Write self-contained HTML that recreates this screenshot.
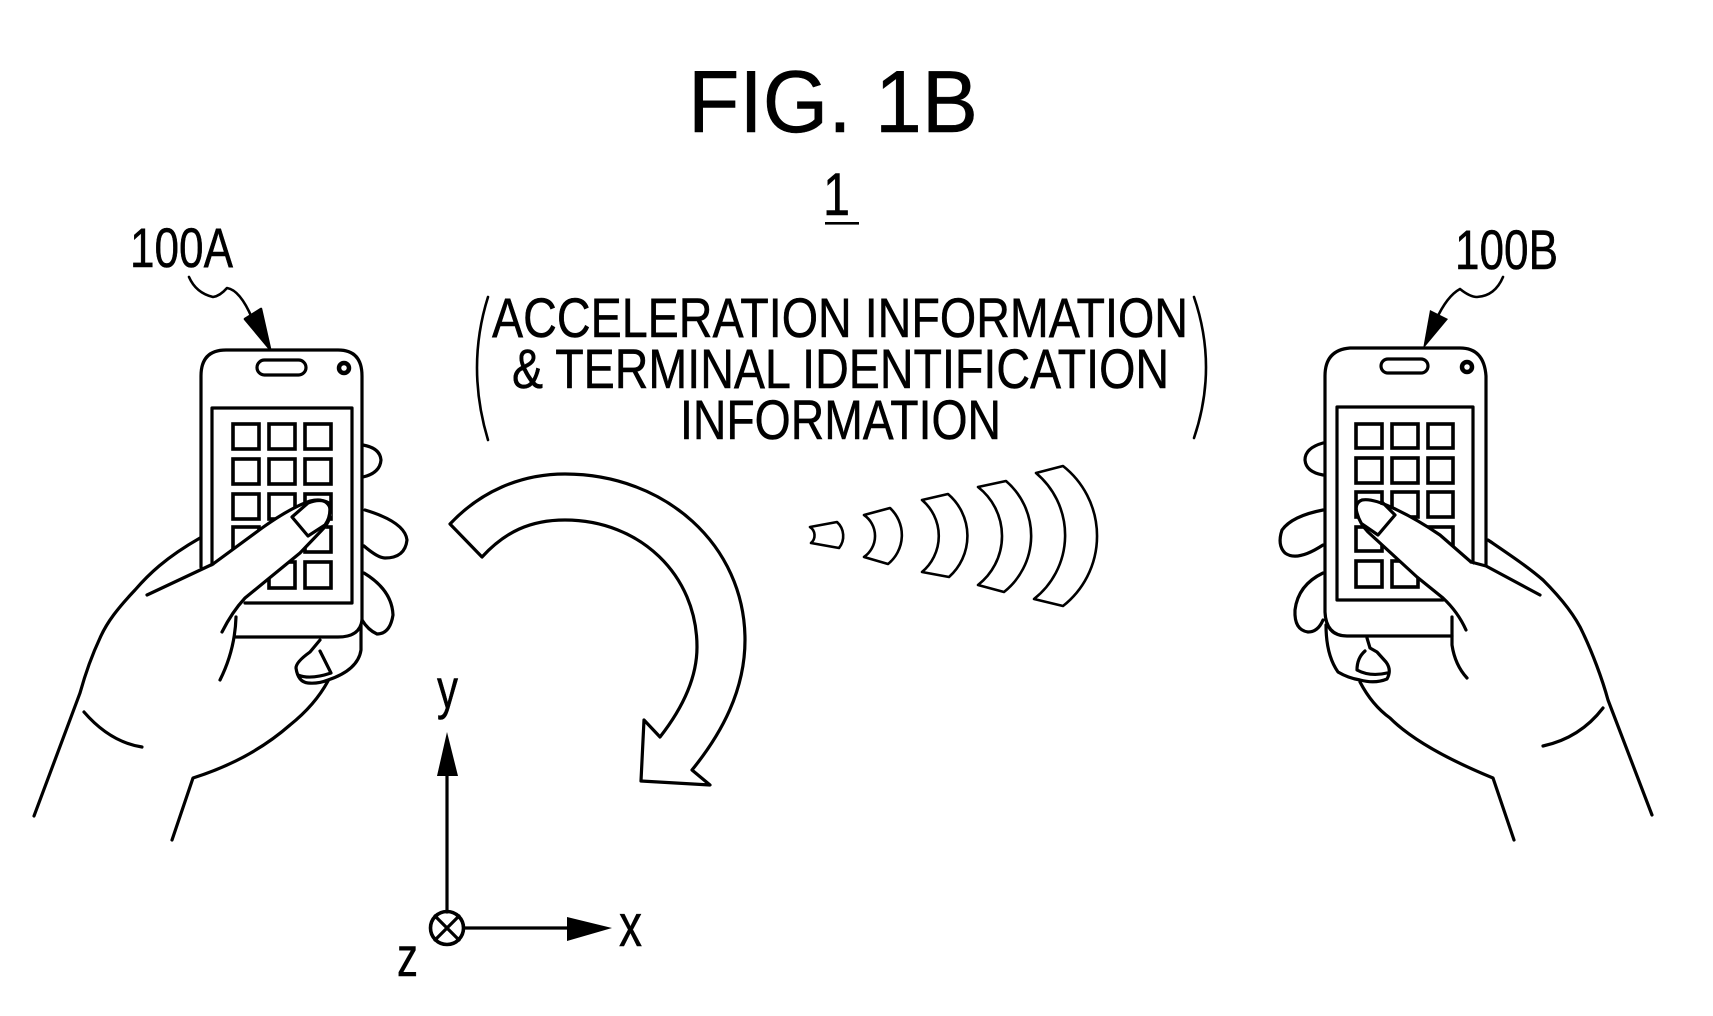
<!DOCTYPE html>
<html><head><meta charset="utf-8"><style>
html,body{margin:0;padding:0;background:#fff;width:1713px;height:1016px;overflow:hidden}
svg{display:block}
text{font-family:"Liberation Sans",sans-serif;fill:#000;stroke:#000;stroke-width:.5}
.l{fill:none;stroke:#000;stroke-width:3.2;stroke-linecap:round;stroke-linejoin:round}
.t{fill:none;stroke:#000;stroke-width:2.6;stroke-linecap:round;stroke-linejoin:round}
.i{fill:none;stroke:#000;stroke-width:3.6}
</style></head><body>
<svg width="1713" height="1016" viewBox="0 0 1713 1016" xmlns="http://www.w3.org/2000/svg">
<rect width="1713" height="1016" fill="#fff"/>
<text x="688" y="132" font-size="88" textLength="290" lengthAdjust="spacingAndGlyphs">FIG. 1B</text>
<text x="823" y="215" font-size="60" textLength="27" lengthAdjust="spacingAndGlyphs">1</text>
<rect x="825" y="222" width="34" height="2.6"/>
<text x="492" y="337" font-size="56" textLength="696" lengthAdjust="spacingAndGlyphs">ACCELERATION INFORMATION</text>
<text x="512" y="388" font-size="56" textLength="657" lengthAdjust="spacingAndGlyphs">&amp; TERMINAL IDENTIFICATION</text>
<text x="680" y="439" font-size="56" textLength="321" lengthAdjust="spacingAndGlyphs">INFORMATION</text>
<path class="t" d="M488 297Q466 367 488 440M1194 297Q1218 367 1194 438"/>
<text x="130" y="267" font-size="56" textLength="103" lengthAdjust="spacingAndGlyphs">100A</text>
<text x="1455" y="269" font-size="56" textLength="103" lengthAdjust="spacingAndGlyphs">100B</text>
<path class="t" d="M189 277Q196 293 213 297Q220 296 227 288Q240 290 252 318"/>
<path d="M270 349L245 319L261 309Z"/><path class="t" d="M245 319L261 309L270 349Z"/>
<path class="t" d="M1503 277Q1495 296 1477 297Q1470 297 1460 289Q1447 296 1436 320"/>
<path d="M1423 349L1430 310L1448 319Z"/>

<!-- left phone -->
<path class="l" d="M201 567V376Q201 350 226 350H338Q362 350 362 376V620Q360 637 338 637H236"/>
<rect class="l" x="257" y="360" width="49" height="15" rx="7.5"/>
<circle cx="344" cy="368" r="5" fill="none" stroke="#000" stroke-width="4.5"/>
<path class="l" d="M212 565V408H352V603H245"/>
<g class="i">
<rect x="233" y="424" width="26" height="25"/><rect x="269" y="424" width="26" height="25"/><rect x="305" y="424" width="26" height="25"/>
<rect x="233" y="459" width="26" height="25"/><rect x="269" y="459" width="26" height="25"/><rect x="305" y="459" width="26" height="25"/>
<rect x="233" y="494" width="26" height="25"/><rect x="269" y="494" width="26" height="25"/><rect x="305" y="494" width="26" height="25"/>
<rect x="233" y="527" width="26" height="25"/><rect x="305" y="527" width="26" height="25"/>
<rect x="269" y="562" width="26" height="26"/><rect x="305" y="562" width="26" height="26"/>
</g>
<path fill="#fff" d="M213 564L262 528L310 500L328 501L332 515L326 528L300 553L267 580L245 600L232 622L215 640L205 590Z"/>
<path class="l" d="M213 564L262 528Q290 508 310 501Q326 497 330 508Q332 520 322 530L300 553L267 580L245 598Q232 612 222 632"/>
<path class="l" d="M292 517L308 503Q320 498 329 503Q332 515 325 525L308 536Z"/>
<path class="l" d="M200 538C165 558 148 575 135 590C118 608 107 622 100 638C92 655 85 675 80 693L34 816"/>
<path class="l" d="M147 595L213 564"/>
<path class="l" d="M84 712Q110 742 142 747"/>
<path class="l" d="M172 840L193 778Q250 760 290 725Q315 705 328 681"/>
<path class="l" d="M236 617Q235 650 220 680"/>
<path class="l" d="M361 625V650Q358 670 328 680Q318 684 308 683Q298 682 296 668Q296 662 310 652L320 640M320 651L331 673Q310 680 298 675"/>
<path class="l" d="M363 445Q380 448 381 460Q380 473 363 477"/>
<path class="l" d="M365 510Q405 522 407 540Q405 558 385 558Q378 558 364 546"/>
<path class="l" d="M364 573Q392 590 393 615Q390 634 377 634Q368 630 362 620"/>

<!-- right phone -->
<path class="l" d="M1486 565V376Q1484 348 1460 348H1350Q1325 350 1325 376V612Q1326 636 1347 636H1452"/>
<rect class="l" x="1381" y="359" width="47" height="14" rx="7"/>
<circle cx="1467" cy="367" r="5" fill="none" stroke="#000" stroke-width="4.5"/>
<path class="l" d="M1473 563V407H1337V600H1443"/>
<g class="i">
<rect x="1356" y="424" width="26" height="24"/><rect x="1392" y="424" width="26" height="24"/><rect x="1428" y="424" width="25" height="24"/>
<rect x="1356" y="458" width="26" height="25"/><rect x="1392" y="458" width="26" height="25"/><rect x="1428" y="458" width="25" height="25"/>
<rect x="1356" y="492" width="26" height="25"/><rect x="1392" y="492" width="26" height="25"/><rect x="1428" y="492" width="25" height="25"/>
<rect x="1356" y="527" width="26" height="24"/><rect x="1428" y="527" width="25" height="24"/>
<rect x="1356" y="561" width="26" height="26"/><rect x="1392" y="561" width="26" height="26"/>
</g>
<path fill="#fff" d="M1472 563L1440 535L1393 508L1362 500L1356 510L1363 528L1417 577L1443 598L1457 613L1466 632L1480 640L1490 590Z"/>
<path class="l" d="M1471 562L1440 535Q1415 518 1393 508Q1372 498 1362 500Q1354 503 1357 513Q1360 524 1368 532L1417 577L1443 598Q1458 612 1466 630"/>
<path class="l" d="M1395 515L1378 535L1362 524M1383 503L1395 515"/>
<path class="l" d="M1471 562L1486 566L1540 595"/>
<path class="l" d="M1488 540C1510 555 1528 567 1543 580C1560 597 1575 615 1583 633C1592 652 1602 678 1608 700L1652 815"/>
<path class="l" d="M1603 708Q1580 738 1543 746"/>
<path class="l" d="M1360 682Q1372 705 1390 718Q1420 748 1493 778L1514 840"/>
<path class="l" d="M1452 617V645Q1455 665 1467 678"/>
<path class="l" d="M1326 625Q1326 655 1338 672Q1348 678 1360 680Q1375 684 1387 679Q1392 670 1386 662L1377 652L1370 648L1367 638M1365 651Q1357 658 1357 670Q1370 677 1387 673"/>
<path class="l" d="M1323 443Q1305 448 1305 460Q1306 472 1323 475"/>
<path class="l" d="M1323 510Q1292 516 1282 530Q1277 545 1285 553Q1297 562 1323 545"/>
<path class="l" d="M1323 573Q1298 585 1295 610Q1294 630 1308 632Q1318 632 1323 620"/>

<!-- rotation arrow -->
<path class="l" d="M450 524C480 492 520 474 565 474C665 474 745 545 745 640C745 690 722 733 692 770L710 785L641 781L644 720L660 737C685 705 697 675 697 647C697 575 640 520 565 520C530 520 505 532 482 557Z"/>
<!-- waves -->
<path class="t" d="M810 527L837 522A19 19 0 0 1 839 548L811 543A10 10 0 0 0 810 527Z"/>
<path class="t" d="M864 515L890 508A37 37 0 0 1 888 564L864 557A25.5 25.5 0 0 0 864 515Z"/>
<path class="t" d="M922 500L948 494A55 55 0 0 1 949 577L922 572A47 47 0 0 0 922 500Z"/>
<path class="t" d="M978 487L1006 481A72 72 0 0 1 1004 592L978 585A62 62 0 0 0 978 487Z"/>
<path class="t" d="M1036 473L1063 466A89 89 0 0 1 1063 606L1034 599A81 81 0 0 0 1036 473Z"/>

<!-- axes -->
<path d="M447 732L437 776H458Z"/>
<path class="l" d="M447 776V912M464 928H568"/>
<path d="M612 928L567 917V941Z"/>
<circle cx="447" cy="928" r="16.5" fill="none" stroke="#000" stroke-width="3.6"/>
<path class="l" d="M435 916L459 940M459 916L435 940"/>
<text x="437" y="708" font-size="56" textLength="21" lengthAdjust="spacingAndGlyphs">y</text>
<text x="619" y="946" font-size="60" textLength="23" lengthAdjust="spacingAndGlyphs">x</text>
<text x="397" y="976" font-size="56" textLength="21" lengthAdjust="spacingAndGlyphs">z</text>
</svg>
</body></html>
